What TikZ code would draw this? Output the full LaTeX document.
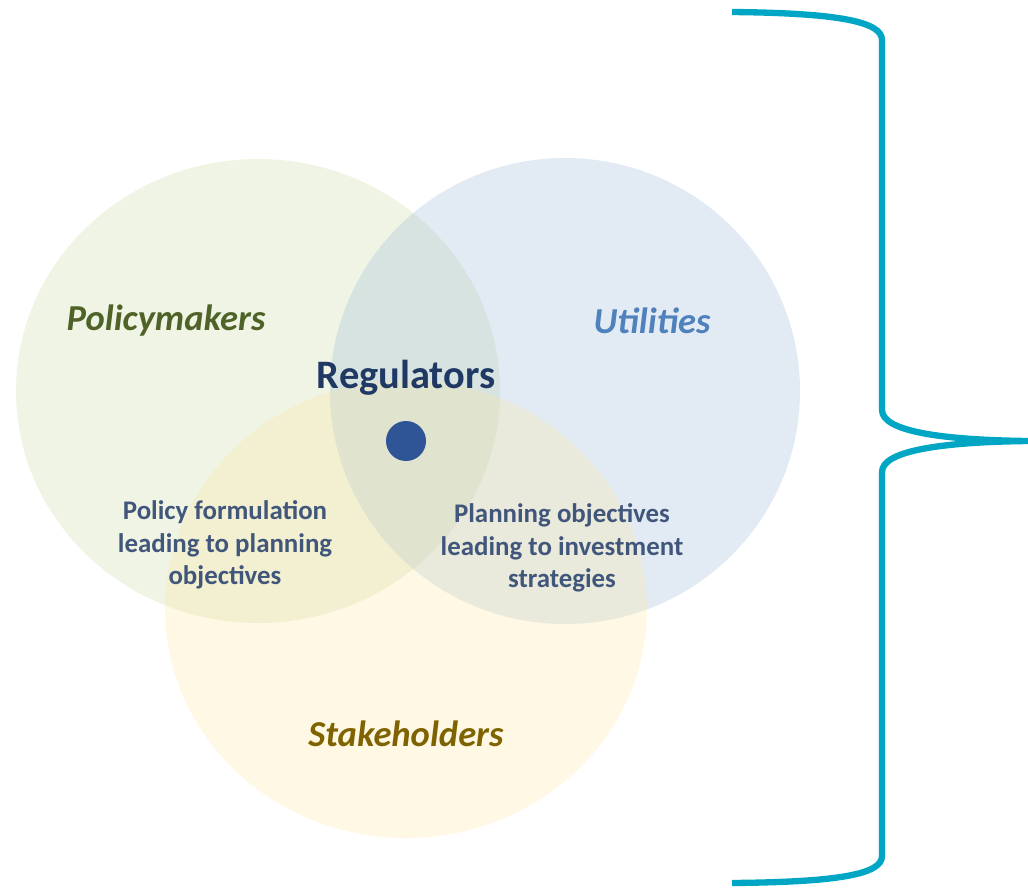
\documentclass[tikz,border=0pt]{standalone}
\usepackage{fontspec}
\setmainfont{Carlito}
\definecolor{polgreen}{RGB}{196,215,155}
\definecolor{utilblue}{RGB}{149,179,215}
\definecolor{stakeyellow}{RGB}{253,228,150}
\definecolor{poltext}{RGB}{79,98,40}
\definecolor{utiltext}{RGB}{79,129,189}
\definecolor{staketext}{RGB}{127,99,0}
\definecolor{regnavy}{RGB}{31,56,100}
\definecolor{dotblue}{RGB}{47,85,151}
\definecolor{braceteal}{RGB}{0,166,196}

\begin{document}
\begin{tikzpicture}[x=0.02cm,y=-0.02cm,
    group/.style={font=\bfseries\itshape\fontsize{20.8}{24}\selectfont},
    overlap/.style={font=\bfseries\fontsize{15.3}{18.5}\selectfont,align=center,text=regnavy!85}]
        \useasboundingbox (0,0) rectangle (1028,887);
        % circles
        \fill [polgreen, fill opacity=0.27] (258,391) ellipse (242 and 232);
        \fill [utilblue, fill opacity=0.27] (565,391) ellipse (235 and 233);
        \fill [stakeyellow, fill opacity=0.25] (406,609) ellipse (241 and 229);
        % group names
        \node [group, text=poltext] (policy) at (166,321) {Policymakers};
        \node [group, text=utiltext] (util) at (652,321) {Utilities};
        \node [group, text=staketext] (stake) at (406,734) {Stakeholders};
        \node [font=\bfseries\fontsize{23}{26}\selectfont, text=regnavy] (reg) at (406,378) {Regulators};
        \fill [dotblue] (406,441) circle (20);
        % overlaps
        \node [overlap] (formul) at (225,545) {Policy formulation\\leading to planning\\objectives};
        \node [overlap] (invest) at (562,548) {Planning objectives\\leading to investment\\strategies};
        % brace
        \draw [braceteal, line width=3.6pt, line join=round]
          (732,12) .. controls (840,13) and (882,22) .. (882,40) -- (882,410)
          .. controls (882,432) and (945,440) .. (1028,441)
          .. controls (945,442) and (882,450) .. (882,472) -- (882,856)
          .. controls (882,874) and (840,882) .. (732,883);
\end{tikzpicture}
\end{document}
